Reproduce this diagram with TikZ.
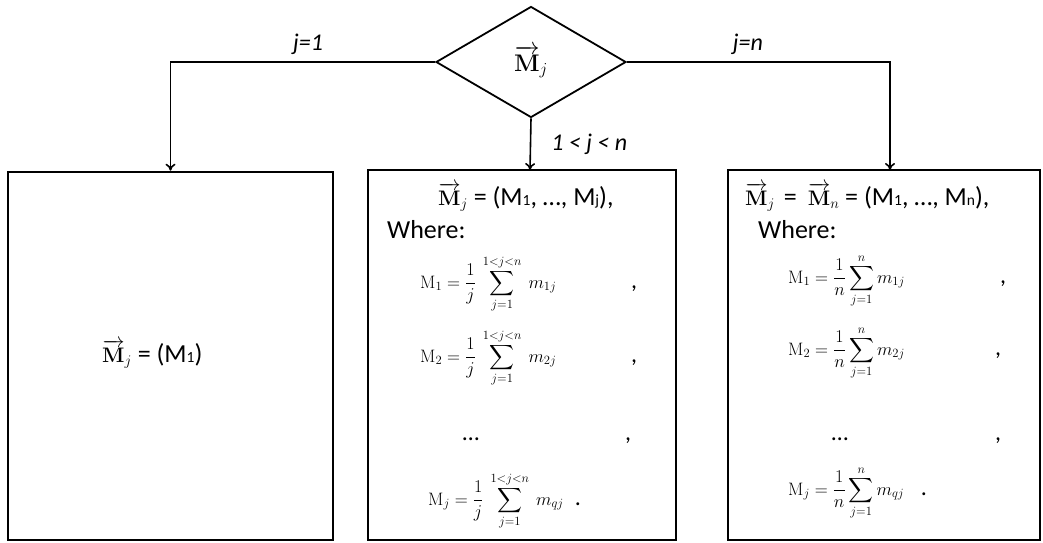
\RequirePackage{fix-cm}
\documentclass[tikz,border=0pt]{standalone}
\usepackage{amsmath}
\usepackage[no-math]{fontspec}
\setmainfont{Carlito}
\usetikzlibrary{shapes.geometric,arrows.meta}

\newcommand{\vM}{\overrightarrow{\mathbf{M}}}
\newcommand{\lo}[1]{{\fontsize{15.5}{15.5}\selectfont #1}}
\newcommand{\mbig}[1]{{\fontsize{21}{23}\selectfont$#1$}}

\begin{document}
\begin{tikzpicture}[x=1pt,y=-1pt,
    conn/.style={line width=1.6pt,-{To[length=7pt,width=10pt]}},
    test node/.style={diamond,draw,line width=1.8pt,inner sep=0pt,minimum width=190pt,minimum height=111pt},
    box node/.style={draw,line width=2.6pt,inner sep=0pt},
    lbl/.style={font=\fontsize{24}{26}\selectfont\itshape,inner sep=2pt},
    txt/.style={anchor=base west,inner sep=0pt,font=\fontsize{26}{29}\selectfont},
    frm/.style={anchor=base west,inner sep=0pt,font=\fontsize{18}{21}\selectfont},
    pnc/.style={anchor=base,inner sep=0pt,font=\fontsize{24}{26}\selectfont}]
    \useasboundingbox (0,0) rectangle (1043,542);

    \node[test node] (test) at (531,62) {{\fontsize{24}{26}\selectfont$\vM_{j}$}};
    \node[box node,minimum width=325pt,minimum height=368pt] (b1) at (170.5,356) {};
    \node[box node,minimum width=308pt,minimum height=370pt] (b2) at (522,355) {};
    \node[box node,minimum width=312pt,minimum height=370pt] (b3) at (884,355) {};
    \coordinate (c2) at (530,170);
    \coordinate (c3) at (890,170);

    \draw[conn] (test.west) -| node[lbl,above=5pt,pos=0.24] {j=1} (b1.north);
    \draw[conn] (test.south) -- node[lbl,right=18pt] {1 < j < n} (c2);
    \draw[conn] (test.east) -| node[lbl,above=5pt,pos=0.23] {j=n} (c3);

    \node[txt] (t1) at (102,362) {\mbig{\vM_{j}} = (M\lo{1})};

    \node[txt] (h2) at (438,205) {\mbig{\vM_{j}} = (M\lo{1}, …, M\lo{j}),};
    \node[txt] (w2) at (387,238) {Where:};
    \node[frm] (f21) at (420,288) {$\displaystyle\mathrm{M}_1=\frac{1}{j}\ \sum_{j=1}^{1<j<n}\ m_{1j}$};
    \node[pnc] (p21) at (634,288) {,};
    \node[frm] (f22) at (420,362) {$\displaystyle\mathrm{M}_2=\frac{1}{j}\ \sum_{j=1}^{1<j<n}\ m_{2j}$};
    \node[pnc] (p22) at (634,362) {,};
    \node[pnc] (e2) at (471,440) {…};
    \node[pnc] (p23) at (628,440) {,};
    \node[frm] (f23) at (428,505) {$\displaystyle\mathrm{M}_j=\frac{1}{j}\ \sum_{j=1}^{1<j<n}\ m_{qj}$};
    \node[pnc] (p24) at (578,505) {.};

    \node[txt] (h3) at (745,205) {\mbig{\vM_{j}}\hspace{9pt}=\hspace{11pt}\mbig{\vM_{n}} = (M\lo{1}, …, M\lo{n}),};
    \node[txt] (w3) at (758,238) {Where:};
    \node[frm] (f31) at (788,283) {$\displaystyle\mathrm{M}_1=\frac{1}{n}\sum_{j=1}^{n}m_{1j}$};
    \node[pnc] (p31) at (1003,283) {,};
    \node[frm] (f32) at (788,355) {$\displaystyle\mathrm{M}_2=\frac{1}{n}\sum_{j=1}^{n}m_{2j}$};
    \node[pnc] (p32) at (998,355) {,};
    \node[pnc] (e3) at (840,440) {…};
    \node[pnc] (p33) at (998,440) {,};
    \node[frm] (f33) at (788,495) {$\displaystyle\mathrm{M}_j=\frac{1}{n}\sum_{j=1}^{n}m_{qj}$};
    \node[pnc] (p34) at (924,495) {.};
\end{tikzpicture}
\end{document}
